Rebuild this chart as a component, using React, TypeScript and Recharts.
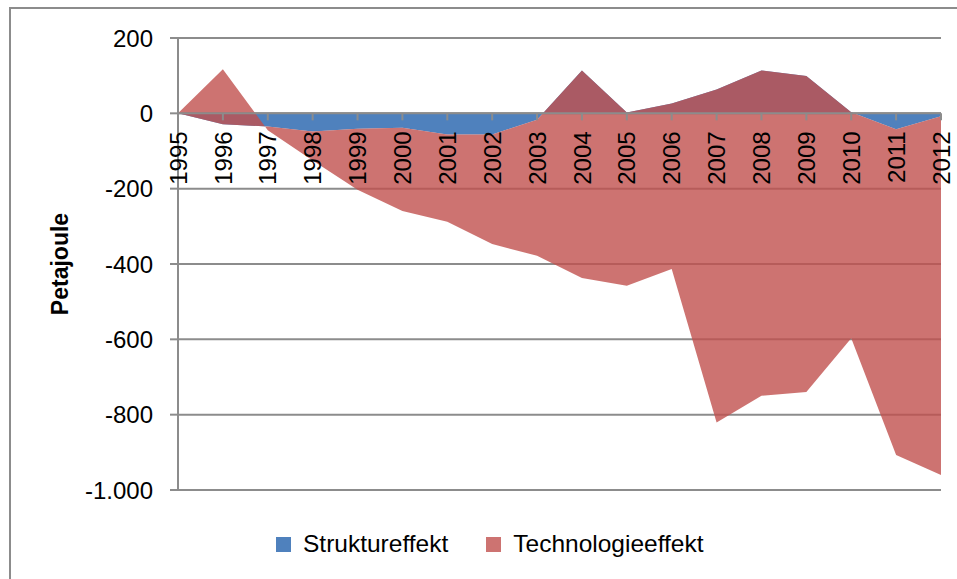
import React from "react";
import {
  AreaChart,
  Area,
  XAxis,
  YAxis,
  CartesianGrid,
  ReferenceLine,
  Legend,
} from "recharts";

// Zerlegung der Energieverbrauchsänderung ggü. 1995 (Petajoule)
const years = [
  "1995", "1996", "1997", "1998", "1999", "2000", "2001", "2002", "2003",
  "2004", "2005", "2006", "2007", "2008", "2009", "2010", "2011", "2012",
];
const struktureffekt = [
  0, -29, -35, -48, -41, -38, -56, -56, -17, 114, 2, 26, 63, 114, 99, 3, -42, -8,
];
const technologieeffekt = [
  0, 146, -10, -77, -162, -221, -232, -291, -361, -551, -460, -439, -884, -864,
  -839, -600, -865, -952,
];
const yTicks = [200, 0, -200, -400, -600, -800, -1000];

const Y_MIN = -1000;
const Y_MAX = 200;

const WIDTH = 957;
const HEIGHT = 579;
const TOP = 38;
const PLOT_H = 452;
const LEGEND_H = 30;
const X_AXIS_H = 2;
// the category axis crosses the value axis at 0, like in Excel
const ZERO_Y = TOP + (PLOT_H * Y_MAX) / (Y_MAX - Y_MIN);

const FONT = '"Liberation Sans", Arial, sans-serif';
const GRAY = "#8c8c8c";
const BLUE = "#4F81BD";
const RED = "#C0504D";

const data = years.map((year, i) => ({
  year,
  struktur: struktureffekt[i],
  technologie: technologieeffekt[i],
}));

function formatDe(v: number) {
  const s = Math.abs(v)
    .toString()
    .replace(/\B(?=(\d{3})+(?!\d))/g, ".");
  return v < 0 ? `-${s}` : s;
}

function YearTick(props: any) {
  const { x, payload } = props;
  if (x == null || !payload) return null;
  const ty = ZERO_Y + 18;
  return (
    <g>
      <line x1={x} x2={x} y1={ZERO_Y} y2={ZERO_Y + 7} stroke={GRAY} strokeWidth={2} />
      <text
        x={x}
        y={ty}
        dy="0.36em"
        textAnchor="end"
        transform={`rotate(-90, ${x}, ${ty})`}
        fill="#000"
        fontSize={24}
        fontFamily={FONT}
      >
        {payload.value}
      </text>
    </g>
  );
}

function LegendContent() {
  const items = [
    { label: "Struktureffekt", color: BLUE, opacity: 1 },
    { label: "Technologieeffekt", color: RED, opacity: 0.8 },
  ];
  return (
    <div
      style={{
        display: "flex",
        alignItems: "center",
        height: LEGEND_H,
        fontFamily: FONT,
        fontSize: 24.5,
        lineHeight: `${LEGEND_H}px`,
        color: "#000",
        whiteSpace: "nowrap",
      }}
    >
      {items.map((it, i) => (
        <div
          key={it.label}
          style={{ display: "flex", alignItems: "center", marginLeft: i ? 38 : 0 }}
        >
          <span
            style={{
              display: "inline-block",
              width: 15,
              height: 15,
              background: it.color,
              opacity: it.opacity,
              marginRight: 12,
            }}
          />
          <span>{it.label}</span>
        </div>
      ))}
    </div>
  );
}

export default function App() {
  return (
    <div
      style={{
        position: "absolute",
        left: 0,
        top: 0,
        width: WIDTH,
        height: HEIGHT,
        overflow: "hidden",
        background: "#fff",
        fontFamily: FONT,
      }}
    >
      <div
        style={{
          position: "absolute",
          left: 9,
          top: 7,
          width: 1200,
          height: 1200,
          borderLeft: `2px solid ${GRAY}`,
          borderTop: `2px solid ${GRAY}`,
        }}
      />
      <AreaChart
        width={WIDTH}
        height={HEIGHT}
        data={data}
        margin={{
          top: TOP,
          right: 16,
          left: 0,
          bottom: HEIGHT - TOP - PLOT_H - LEGEND_H - X_AXIS_H,
        }}
        style={{ position: "absolute", left: 0, top: 0 }}
      >
        <CartesianGrid vertical={false} stroke={GRAY} strokeWidth={2} />
        <Area
          type="linear"
          dataKey="struktur"
          name="Struktureffekt"
          stackId="1"
          stroke="none"
          fill={BLUE}
          fillOpacity={1}
          isAnimationActive={false}
        />
        <Area
          type="linear"
          dataKey="technologie"
          name="Technologieeffekt"
          stackId="1"
          stroke="none"
          fill={RED}
          fillOpacity={0.8}
          isAnimationActive={false}
        />
        <ReferenceLine y={0} stroke={GRAY} strokeWidth={2} />
        <XAxis
          dataKey="year"
          height={X_AXIS_H}
          axisLine={false}
          tickLine={false}
          interval={0}
          tick={YearTick}
        />
        <YAxis
          width={178}
          domain={[Y_MIN, Y_MAX]}
          ticks={yTicks}
          interval={0}
          tickFormatter={formatDe}
          axisLine={{ stroke: GRAY, strokeWidth: 2 }}
          tickLine={{ stroke: GRAY, strokeWidth: 2 }}
          tickSize={8}
          tickMargin={17}
          tick={{ fill: "#000", fontSize: 24, fontFamily: FONT }}
          label={{
            value: "Petajoule",
            angle: -90,
            position: "center",
            dx: -29,
            style: { fontSize: 23, fontWeight: "bold", fontFamily: FONT, fill: "#000" },
          }}
        />
        <Legend
          verticalAlign="bottom"
          content={<LegendContent />}
          wrapperStyle={{ left: 276, bottom: 20, width: "auto" }}
        />
      </AreaChart>
    </div>
  );
}
